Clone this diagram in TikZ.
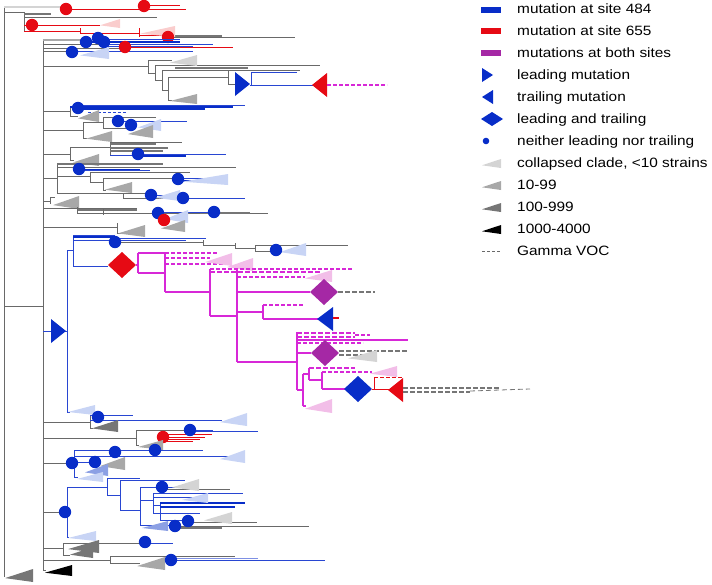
\documentclass[tikz,border=0pt]{standalone}
\usepackage{fontspec}
\setmainfont{Liberation Sans}
\usepackage{graphicx}
\definecolor{cblue}{RGB}{8,45,200}
\definecolor{lblue}{RGB}{40,70,210}
\definecolor{cred}{RGB}{230,10,20}
\definecolor{cmag}{RGB}{215,40,215}
\definecolor{cpur}{RGB}{165,40,165}
\definecolor{pblue}{RGB}{200,212,245}
\definecolor{mblue}{RGB}{140,160,228}
\definecolor{ppink}{RGB}{242,190,232}
\definecolor{pred}{RGB}{250,205,205}
\definecolor{gA}{RGB}{212,212,212}
\definecolor{gB}{RGB}{168,168,168}
\definecolor{gC}{RGB}{118,118,118}
\definecolor{tg}{RGB}{105,105,105}
\newcommand{\clade}[5]{\fill[#5] (#1,{#3+0.7*(#4-#3)}) -- (#2,#3) -- (#2,#4) -- cycle;}
\newcommand{\bdot}[2]{\fill[cblue] (#1,#2) circle (6.2);}
\newcommand{\rdot}[2]{\fill[cred] (#1,#2) circle (6.2);}
\newcommand{\diam}[3]{\fill[#3] ({#1-14},#2) -- (#1,{#2-13}) -- ({#1+14},#2) -- (#1,{#2+13}) -- cycle;}
\newcommand{\rtri}[4]{\fill[#4] (#1,{#3-12}) -- (#2,#3) -- (#1,{#3+12}) -- cycle;}
\newcommand{\ltri}[4]{\fill[#4] (#1,#3) -- (#2,{#3-12}) -- (#2,{#3+12}) -- cycle;}
\tikzset{
 gl/.style={draw=tg, line width=0.9pt},
 gthick/.style={draw=gC, line width=2.6pt},
 bl/.style={draw=lblue, line width=1pt},
 bthick/.style={draw=cblue, line width=2.4pt},
 rl/.style={draw=cred, line width=1pt},
 ml/.style={draw=cmag, line width=1.1pt},
 mdash/.style={draw=cmag, line width=1.2pt, dash pattern=on 4pt off 2pt},
 mdthick/.style={draw=cmag, line width=2.2pt, dash pattern=on 5pt off 2pt},
 gdash/.style={draw=gC, line width=2pt, dash pattern=on 5pt off 2pt},
 lab/.style={anchor=base west, inner sep=0pt, font=\fontsize{13.5}{16}\selectfont},
}
\begin{document}
\begin{tikzpicture}[x=1pt,y=-1pt]
\useasboundingbox (0,0) rectangle (712,584);
% root
\draw[gl] (4,7) -- (4,577);
\draw[gl] (4,306) -- (43,306);
\draw[gl] (43,39) -- (43,570);
\clade{5}{33}{569}{582}{gC}
% top red clade
\draw[draw=gA, line width=2.6pt] (4,7) -- (63,7);
\draw[rl] (63,9) -- (186,9);
\draw[rl] (144,5) -- (180,5);
\draw[rl] (144,5) -- (144,9);
\draw[gl] (4,12) -- (24,12);
\draw[gl] (24,12) -- (24,31);
\draw[gthick] (24,14) -- (51,14);
\draw[gl] (24,17) -- (157,17);
\draw[rl] (24,25) -- (100,25);
\draw[rl] (24,31) -- (80,31);
\draw[rl] (80,28) -- (80,33);
\draw[rl] (80,33) -- (139,33);
\draw[rl] (139,28) -- (139,37);
\draw[rl] (139,35) -- (175,35);
\draw[gl] (168,37) -- (295,37);
\draw[draw=gC, line width=1.6pt] (175,36) -- (222,36);
\clade{100}{120}{19}{28}{pred}
\clade{140}{175}{26}{37}{pred}
\rdot{66}{9} \rdot{144}{6} \rdot{32}{25} \rdot{168}{37}
% group y 39-58
\draw[draw=gB, line width=2.6pt] (43,40) -- (86,40);
\draw[gl] (43,44) -- (100,44);
\draw[gl] (43,48) -- (125,48);
\draw[gl] (43,51) -- (72,51);
\draw[bl] (98,39) -- (180,39);
\draw[bthick] (86,42) -- (180,42);
\draw[bl] (104,44) -- (213,44);
\draw[bl] (104,46) -- (193,46);
\draw[rl] (125,47) -- (233,47);
\draw[bl] (72,51) -- (193,51);
\clade{80}{109}{47}{59}{pblue}
\bdot{86}{42} \bdot{98}{38} \bdot{104}{42} \rdot{125}{47} \bdot{72}{52}
% subtree y 60-105
\draw[gl] (43,66) -- (148,66);
\draw[gl] (148,60) -- (148,73);
\draw[gl] (148,60) -- (172,60);
\draw[gl] (148,73) -- (155,73);
\draw[gl] (155,66) -- (155,80);
\draw[gl] (155,65) -- (320,65);
\draw[draw=gC, line width=2pt] (175,68) -- (248,68);
\draw[gl] (175,70) -- (300,70);
\draw[gl] (155,80) -- (162,80);
\draw[gl] (162,70) -- (162,90);
\draw[gl] (162,70) -- (175,70);
\draw[gl] (162,90) -- (168,90);
\draw[gl] (168,77) -- (168,100);
\draw[gl] (168,77) -- (228,77);
\draw[gl] (228,70) -- (228,84);
\draw[gl] (228,84) -- (236,84);
\draw[gl] (168,100) -- (172,100);
\clade{170}{197}{55}{66}{gA}
\clade{170}{197}{94}{104}{gB}
\rtri{235}{250}{84}{cblue}
\draw[bl] (251,72) -- (251,85);
\draw[bl] (251,72) -- (297,72);
\draw[bl] (250,85) -- (313,85);
\ltri{312}{327}{85}{cred}
\draw[mdash, line width=1.6pt] (327,85) -- (375,85);
\draw[mdash] (375,85) -- (387,85);
% row 111
\draw[gl] (43,111) -- (70,111);
\draw[gl] (70,107) -- (70,116);
\draw[bl] (78,105) -- (245,105);
\draw[draw=cblue, line width=1.6pt] (70,107) -- (233,107);
\draw[bthick] (78,109) -- (205,109);
\draw[draw=lblue, line width=0.9pt, dash pattern=on 3pt off 2pt] (88,112) -- (127,112);
\draw[gl] (70,116) -- (78,116);
\clade{78}{99}{110}{122}{gB}
\bdot{78}{108}
% row 130
\draw[gl] (43,130) -- (83,130);
\draw[gl] (83,122) -- (83,138);
\draw[gl] (83,122) -- (103,122);
\draw[gl] (103,117) -- (103,128);
\draw[gl] (103,117) -- (156,117);
\draw[bl] (118,121) -- (187,121);
\draw[gl] (103,128) -- (131,128);
\draw[gl] (83,138) -- (87,138);
\clade{138}{161}{119}{131}{pblue}
\clade{128}{153}{125}{138}{gB}
\clade{86}{112}{131}{142}{gB}
\bdot{118}{121} \bdot{131}{125}
% row 154
\draw[gl] (43,154) -- (70,154);
\draw[gl] (70,147) -- (70,160);
\draw[gl] (70,147) -- (110,147);
\draw[gl] (110,143) -- (110,155);
\draw[gthick] (110,144) -- (156,144);
\draw[gl] (110,142) -- (182,142);
\draw[draw=gC, line width=2pt] (110,148) -- (168,148);
\draw[draw=gC, line width=2pt] (110,151) -- (163,151);
\draw[bl] (110,155) -- (138,155);
\draw[bl] (138,154) -- (226,154);
\draw[bthick] (138,156) -- (186,156);
\draw[gl] (70,160) -- (74,160);
\clade{73}{99}{154}{166}{gB}
\bdot{138}{154}
% row 178
\draw[gl] (43,178) -- (57,178);
\draw[gl] (57,163) -- (57,193);
\draw[gthick] (57,164) -- (163,164);
\draw[gl] (57,167) -- (236,167);
\draw[bthick] (79,170) -- (140,170);
\draw[bl] (79,170) -- (150,170);
\draw[gl] (57,176) -- (90,176);
\draw[gl] (90,172) -- (90,182);
\draw[gl] (90,172) -- (190,172);
\draw[gl] (90,182) -- (103,182);
\draw[gl] (103,178) -- (103,190);
\draw[gl] (103,178) -- (178,178);
\draw[bl] (178,178) -- (212,178);
\draw[bthick] (178,181) -- (200,181);
\draw[gl] (103,190) -- (106,190);
\clade{182}{228}{174}{185}{pblue}
\clade{105}{132}{182}{193}{gB}
\bdot{79}{169} \bdot{178}{179}
\draw[gl] (57,193) -- (151,193);
\draw[gl] (123,193) -- (123,198) -- (183,198);
\draw[bl] (151,195) -- (180,195);
\draw[bl] (183,198) -- (245,198);
\clade{155}{180}{190}{201}{pblue}
\bdot{151}{195} \bdot{183}{198}
% row 201
\draw[gl] (43,201) -- (50,201);
\draw[gl] (50,197) -- (50,204);
\draw[gl] (50,197) -- (55,197);
\clade{53}{79}{196}{209}{gB}
% row 209
\draw[gl] (43,208) -- (137,208);
\draw[draw=gC, line width=1.8pt] (77,210) -- (137,210);
\draw[gl] (77,207) -- (77,213);
\draw[gl] (77,213) -- (103,213);
\draw[gl] (103,209) -- (103,215);
\draw[gl] (103,213) -- (268,213);
\draw[draw=gC, line width=1.8pt] (200,213) -- (250,213);
\draw[bl] (158,212) -- (214,212);
\bdot{158}{213}
\clade{165}{188}{210}{223}{pblue}
\rdot{164}{220}
\clade{161}{185}{220}{232}{gB}
\bdot{214}{212}
% row 227
\draw[gl] (43,227) -- (117,227);
\draw[gl] (117,223) -- (117,233);
\draw[gl] (117,233) -- (121,233);
\clade{118}{145}{225}{237}{gB}
% blue clade
\draw[bl] (43,331) -- (67,331);
\draw[bl] (67,250) -- (67,412);
\draw[bl] (67,250) -- (73,250);
\draw[bl] (73,235) -- (73,266);
\draw[bthick] (73,237) -- (113,237);
\draw[bl] (73,235) -- (115,235);
\draw[bl] (115,238) -- (206,238);
\draw[bl] (73,240) -- (186,240);
\draw[gl] (115,242) -- (203,242);
\draw[gl] (203,240) -- (203,245) -- (235,245);
\draw[gl] (235,243) -- (235,248) -- (255,248);
\draw[gl] (255,245) -- (255,251) -- (276,251);
\draw[gl] (255,245) -- (348,245);
\clade{280}{306}{243}{256}{pblue}
\bdot{115}{242} \bdot{276}{250}
\draw[bl] (73,266) -- (108,266);
\diam{122}{265}{cred}
\rtri{51}{66}{331}{cblue}
\draw[bl] (67,412) -- (70,412);
\clade{68}{95}{405}{415}{pblue}
% magenta subtree
\draw[ml] (136,265) -- (138,265);
\draw[ml] (138,253) -- (138,273);
\draw[ml] (138,253) -- (165,253);
\draw[ml] (138,273) -- (165,273);
\draw[ml] (165,253) -- (165,292);
\draw[mdash] (165,253) -- (218,253);
\draw[mdash] (165,258) -- (210,258);
\draw[mdash] (165,264) -- (228,264);
\clade{205}{232}{253}{266}{ppink}
\clade{227}{253}{258}{271}{ppink}
\draw[ml] (165,292) -- (210,292);
\draw[ml] (210,269) -- (210,316);
\draw[mdash] (210,269) -- (353,269);
\draw[mdthick] (210,272) -- (320,272);
\draw[ml] (210,316) -- (237,316);
\draw[ml] (237,270) -- (237,362);
\draw[mdash] (237,277) -- (305,277);
\clade{305}{332}{270}{282}{ppink}
\draw[ml] (237,292) -- (310,292);
\diam{324}{292}{cpur}
\draw[gdash] (338,292) -- (375,292);
\draw[ml] (237,312) -- (263,312);
\draw[ml] (263,305) -- (263,319);
\draw[mdash] (263,305) -- (303,305);
\draw[ml] (263,319) -- (318,319);
\ltri{317}{333}{319}{cblue}
\draw[draw=cred, line width=1.6pt] (333,318) -- (339,318);
\draw[ml] (237,362) -- (297,362);
\draw[ml] (297,332) -- (297,390);
\draw[mdthick] (297,333) -- (355,333);
\draw[mdthick] (297,337) -- (355,337);
\draw[mdash] (355,335) -- (370,335);
\draw[ml] (297,340) -- (408,340);
\draw[mdash] (297,343) -- (363,343);
\draw[ml] (297,353) -- (311,353);
\draw[gdash, line width=1.4pt] (339,351) -- (407,351);
\draw[gdash, line width=1.4pt] (339,355) -- (375,355);
\clade{348}{377}{350}{362}{gA}
\diam{325}{353}{cpur}
\draw[ml] (297,390) -- (303,390);
\draw[ml] (303,374) -- (303,406);
\draw[ml] (303,374) -- (309,374);
\draw[ml] (309,368) -- (309,380);
\draw[mdthick] (309,368) -- (355,368);
\draw[ml] (309,380) -- (322,380);
\draw[ml] (322,372) -- (322,389);
\draw[mdash] (322,372) -- (372,372);
\clade{370}{397}{366}{377}{ppink}
\draw[ml] (322,389) -- (345,389);
\diam{358}{389}{cblue}
\draw[rl] (372,389) -- (389,389);
\draw[rl] (374,377) -- (374,389);
\draw[rl, dash pattern=on 4pt off 2pt] (374,377) -- (402,377);
\ltri{388}{403}{390}{cred}
\draw[draw=gC, line width=1.6pt, dash pattern=on 5pt off 2pt] (403,388) -- (500,388);
\draw[draw=gC, line width=1.6pt, dash pattern=on 5pt off 2pt] (403,392) -- (470,392);
\draw[draw=gC, line width=0.8pt, dash pattern=on 5pt off 3pt] (470,391) -- (530,389);
\draw[ml] (303,406) -- (306,406);
\clade{305}{332}{399}{413}{ppink}
% row 421
\draw[gl] (43,422) -- (90,422);
\draw[gl] (90,415) -- (90,428);
\draw[bl] (90,415) -- (133,415);
\draw[bl] (90,420) -- (222,420);
\draw[gl] (90,428) -- (93,428);
\clade{92}{118}{420}{432}{gC}
\clade{220}{247}{413}{426}{pblue}
\bdot{98}{417}
% row 438
\draw[gl] (43,438) -- (136,438);
\draw[gl] (136,430) -- (136,445);
\draw[gl] (136,430) -- (190,430);
\draw[bl] (190,430) -- (213,430);
\draw[bl] (190,431) -- (258,431);
\draw[rl] (163,434) -- (212,434);
\draw[rl] (163,437) -- (205,437);
\draw[rl] (163,439) -- (200,439);
\draw[rl] (163,441) -- (193,441);
\draw[gl] (136,445) -- (139,445);
\rdot{163}{437}
\clade{138}{163}{440}{450}{gB}
\bdot{190}{430}
% row 463
\draw[gl] (43,463) -- (72,463);
\draw[bl] (74,450) -- (74,477);
\draw[bl] (74,450) -- (203,450);
\draw[bl] (74,456) -- (243,456);
\draw[bl] (74,462) -- (95,462);
\draw[bl] (74,477) -- (78,477);
\clade{220}{245}{450}{463}{pblue}
\clade{100}{125}{457}{470}{gB}
\clade{85}{108}{464}{476}{mblue}
\clade{77}{103}{472}{482}{pblue}
\bdot{72}{463} \bdot{115}{452} \bdot{155}{450} \bdot{95}{462}
% row 512
\draw[gl] (43,512) -- (65,512);
\draw[bl] (67,487) -- (67,537);
\draw[bl] (67,487) -- (107,487);
\draw[bl] (107,478) -- (107,495);
\draw[bl] (107,478) -- (140,478);
\draw[bl] (107,495) -- (120,495);
\draw[bl] (120,480) -- (120,510);
\draw[bl] (120,480) -- (185,480);
\draw[bl] (120,510) -- (140,510);
\draw[bl] (140,487) -- (140,525);
\draw[bl] (140,487) -- (190,487);
\draw[gl] (162,489) -- (230,489);
\draw[bl] (140,500) -- (153,500);
\draw[bl] (153,493) -- (153,513);
\draw[bl] (153,493) -- (243,493);
\draw[bl] (153,497) -- (200,497);
\draw[bl] (153,505) -- (160,505);
\draw[bl] (160,503) -- (160,520);
\draw[draw=cblue, line width=1.8pt] (160,503) -- (245,503);
\draw[draw=cblue, line width=1.8pt] (160,507) -- (235,507);
\draw[bl] (153,513) -- (200,513);
\draw[bl] (160,520) -- (188,520);
\draw[gl] (188,522) -- (257,522);
\draw[gl] (175,526) -- (309,526);
\draw[draw=gC, line width=1.8pt] (175,528) -- (222,528);
\draw[bl] (140,525) -- (175,525);
\clade{172}{199}{479}{491}{gA}
\clade{182}{208}{493}{503}{pblue}
\clade{204}{232}{512}{524}{gA}
\clade{142}{168}{521}{531}{mblue}
\bdot{65}{512} \bdot{162}{487} \bdot{188}{521} \bdot{175}{526}
\draw[bl] (67,537) -- (69,537);
\clade{68}{96}{531}{541}{pblue}
% row 548
\draw[gl] (43,548) -- (63,548);
\draw[gl] (63,543) -- (63,555);
\draw[gl] (63,543) -- (145,543);
\draw[bl] (145,543) -- (173,543);
\draw[gl] (63,555) -- (70,555);
\clade{68}{99}{540}{553}{gC}
\clade{70}{93}{547}{558}{gC}
\bdot{145}{542}
% row 560
\draw[gl] (43,560) -- (110,560);
\draw[gl] (110,556) -- (110,563);
\draw[gl] (110,556) -- (235,556);
\draw[gl] (110,563) -- (140,563);
\draw[draw=lblue!60, line width=0.9pt] (171,558) -- (258,558);
\draw[bl] (171,560) -- (325,560);
\clade{137}{165}{557}{570}{gB}
\bdot{171}{560}
\draw[gl] (43,570) -- (46,570);
\clade{45}{72}{565}{576}{black}
% legend
\fill[cblue] (481,6.5) rectangle (501,12.5);
\fill[cred] (481,28) rectangle (501,34);
\fill[cpur] (481,50) rectangle (501,56);
\fill[cblue] (482,68) -- (493,75) -- (482,82) -- cycle;
\fill[cblue] (493,90) -- (482,97) -- (493,104) -- cycle;
\fill[cblue] (481,119) -- (492,112) -- (503,119) -- (492,126) -- cycle;
\fill[cblue] (486,141) circle (3.3);
\clade{482}{501}{159}{168}{gA}
\clade{482}{501}{181}{190}{gB}
\clade{482}{501}{203}{212}{gC}
\clade{482}{501}{225}{234}{black}
\draw[draw=tg, line width=0.6pt, dash pattern=on 3pt off 2pt] (482,251) -- (501,251);
\node[lab] (t1) at (517,13.5) {\scalebox{1.14}[1]{mutation at site 484}};
\node[lab] (t2) at (517,35.5) {\scalebox{1.14}[1]{mutation at site 655}};
\node[lab] (t3) at (517,57.5) {\scalebox{1.14}[1]{mutations at both sites}};
\node[lab] (t4) at (517,79.5) {\scalebox{1.14}[1]{leading mutation}};
\node[lab] (t5) at (517,101.5) {\scalebox{1.14}[1]{trailing mutation}};
\node[lab] (t6) at (517,123.5) {\scalebox{1.14}[1]{leading and trailing}};
\node[lab] (t7) at (517,145.5) {\scalebox{1.14}[1]{neither leading nor trailing}};
\node[lab] (t8) at (517,167.5) {\scalebox{1.14}[1]{collapsed clade, <10 strains}};
\node[lab] (t9) at (517,189.5) {\scalebox{1.14}[1]{10-99}};
\node[lab] (t10) at (517,211.5) {\scalebox{1.14}[1]{100-999}};
\node[lab] (t11) at (517,233.5) {\scalebox{1.14}[1]{1000-4000}};
\node[lab] (t12) at (517,255.5) {\scalebox{1.14}[1]{Gamma VOC}};
\end{tikzpicture}
\end{document}
